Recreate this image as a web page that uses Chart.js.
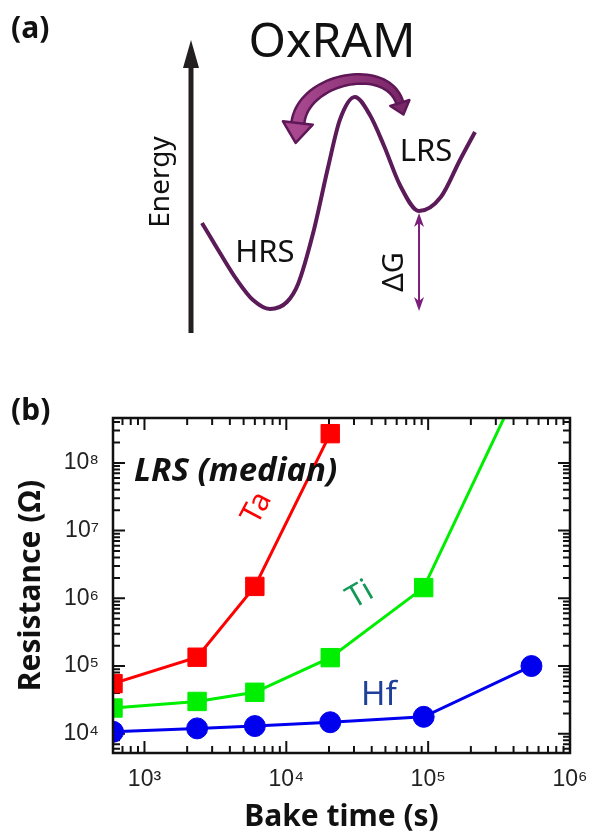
<!DOCTYPE html>
<html>
<head>
<meta charset="utf-8">
<script src="https://cdn.jsdelivr.net/npm/chart.js@4.4.1/dist/chart.umd.min.js"></script>
<style>
  html, body { margin: 0; padding: 0; background: #fff; }
  canvas { display: block; }
</style>
</head>
<body>
<canvas id="schemeChart" width="589" height="350"></canvas>
<canvas id="lrsChart" width="589" height="482"></canvas>
<script>
// (a) energy landscape, position vs energy (arbitrary units)
const wellPosition = [0, 6.6, 12.8, 18.7, 24.9, 31.1, 35.2, 40.7, 46.2, 50.5, 56.0, 61.5, 66.7, 72.5, 79.5, 87.5, 94.5, 100];
const wellEnergy = [40.6, 26.4, 13.7, 4.2, 0, 3.3, 11.8, 35.8, 67.0, 89.2, 100, 91.5, 76.9, 58.5, 46.2, 52.8, 70.3, 83.5];
const hrsIndex = 4, peakIndex = 10, lrsIndex = 14;

// (b) LRS median vs bake time
const bakeTimes = [600, 2350, 6000, 20400, 93000, 535000];
const taLRS = [5.5e4, 1.35e5, 1.5e6, 2.7e8];
const tiLRS = [2.4e4, 3.0e4, 4.1e4, 1.33e5, 1.44e6, 3.3e9];
const hfLRS = [1.07e4, 1.2e4, 1.3e4, 1.48e4, 1.78e4, 1.0e5];
const xRange = [600, 1e6];
const yRange = [5.2e3, 4.6e8];
const minorSteps = [2, 3, 4, 5, 6, 7, 8, 9];

const SANS = '"Noto Sans", "Open Sans", sans-serif';
const TICKFONT = '"Liberation Sans", Arial, sans-serif';
Chart.defaults.font.family = SANS;

// ========== (a) ==========
function drawSwapArrow(ctx, p0, c0, c1, p3) {
    const pt = (t) => {
        const u = 1 - t;
        return {
            x: u*u*u*p0.x + 3*u*u*t*c0.x + 3*u*t*t*c1.x + t*t*t*p3.x,
            y: u*u*u*p0.y + 3*u*u*t*c0.y + 3*u*t*t*c1.y + t*t*t*p3.y
        };
    };
    const left = [], right = [];
    const n = 40;
    for (let i = 0; i <= n; i++) {
        const t = i / n;
        const a = pt(Math.max(0, t - 0.01)), b = pt(Math.min(1, t + 0.01)), p = pt(t);
        let dx = b.x - a.x, dy = b.y - a.y;
        const len = Math.hypot(dx, dy);
        dx /= len; dy /= len;
        const w = 6.5 + (3.5 - 6.5) * t;
        left.push({ x: p.x - dy * w, y: p.y + dx * w });
        right.push({ x: p.x + dy * w, y: p.y - dx * w });
    }
    const head = (base, from, half, len) => {
        let dx = base.x - from.x, dy = base.y - from.y;
        const l = Math.hypot(dx, dy);
        dx /= l; dy /= l;
        return [
            { x: base.x - dy * half, y: base.y + dx * half },
            { x: base.x + dx * len, y: base.y + dy * len },
            { x: base.x + dy * half, y: base.y - dx * half }
        ];
    };
    const h0 = head(p0, c0, 15, 20);
    const h3 = head(p3, c1, 10, 12);

    const grad = ctx.createLinearGradient(p0.x, 0, p3.x, 0);
    grad.addColorStop(0, '#a8488f');
    grad.addColorStop(1, '#7a2768');
    ctx.save();
    ctx.beginPath();
    ctx.moveTo(right[0].x, right[0].y);
    for (let i = 1; i <= n; i++) ctx.lineTo(right[i].x, right[i].y);
    h3.forEach(p => ctx.lineTo(p.x, p.y));
    for (let i = n; i >= 0; i--) ctx.lineTo(left[i].x, left[i].y);
    h0.forEach(p => ctx.lineTo(p.x, p.y));
    ctx.closePath();
    ctx.fillStyle = grad;
    ctx.fill();
    ctx.lineJoin = 'round';
    ctx.lineWidth = 2.5;
    ctx.strokeStyle = '#5e1757';
    ctx.stroke();
    ctx.restore();
}

function drawThinArrowHead(ctx, x, y, dir) {
    ctx.beginPath();
    ctx.moveTo(x, y);
    ctx.lineTo(x - 5, y + dir * 14);
    ctx.lineTo(x, y + dir * 10);
    ctx.lineTo(x + 5, y + dir * 14);
    ctx.closePath();
    ctx.fill();
}

const schemeDecor = {
    id: 'schemeDecor',
    afterDatasetsDraw(chart) {
        const { ctx, chartArea: a, scales: { x, y } } = chart;
        ctx.save();

        // panel label and title
        ctx.fillStyle = '#111';
        ctx.textBaseline = 'middle';
        ctx.textAlign = 'left';
        ctx.font = 'bold 30px ' + SANS;
        ctx.fillText('(a)', 11, 29);
        ctx.textAlign = 'center';
        ctx.font = '48px ' + SANS;
        ctx.fillText('OxRAM', 332, 43);

        // energy axis
        const ax = a.left - 11;
        ctx.strokeStyle = '#231f20';
        ctx.fillStyle = '#231f20';
        ctx.lineWidth = 5;
        ctx.beginPath();
        ctx.moveTo(ax, a.bottom + 24);
        ctx.lineTo(ax, 62);
        ctx.stroke();
        ctx.beginPath();
        ctx.moveTo(ax, 40);
        ctx.lineTo(ax - 8, 68);
        ctx.lineTo(ax + 8, 68);
        ctx.closePath();
        ctx.fill();

        ctx.fillStyle = '#111';
        ctx.font = '28px ' + SANS;
        ctx.save();
        ctx.translate(161, 182);
        ctx.rotate(-Math.PI / 2);
        ctx.fillText('Energy', 0, 0);
        ctx.restore();

        // state labels
        ctx.font = '31px ' + SANS;
        ctx.fillText('HRS', 265, 253);
        ctx.fillText('LRS', 426, 152);

        // delta G arrow between the two minima
        const gx = x.getPixelForValue(wellPosition[lrsIndex]);
        const gTop = y.getPixelForValue(wellEnergy[lrsIndex]) + 2;
        const gBot = y.getPixelForValue(wellEnergy[hrsIndex]) + 2;
        ctx.strokeStyle = '#7a1f7a';
        ctx.fillStyle = '#7a1f7a';
        ctx.lineWidth = 2;
        ctx.beginPath();
        ctx.moveTo(gx, gTop + 6);
        ctx.lineTo(gx, gBot - 6);
        ctx.stroke();
        drawThinArrowHead(ctx, gx, gTop, 1);
        drawThinArrowHead(ctx, gx, gBot, -1);

        ctx.fillStyle = '#111';
        ctx.font = '29px ' + SANS;
        ctx.save();
        ctx.translate(gx - 24, 272);
        ctx.rotate(-Math.PI / 2);
        ctx.fillText('ΔG', 0, 0);
        ctx.restore();

        // switching arrow over the barrier
        const px = x.getPixelForValue(wellPosition[peakIndex]);
        const py = y.getPixelForValue(wellEnergy[peakIndex]);
        drawSwapArrow(ctx,
            { x: px - 57, y: py + 26 },
            { x: px - 52, y: py - 19 },
            { x: px + 32, y: py - 36 },
            { x: px + 45, y: py + 6 });

        ctx.restore();
    }
};

new Chart(document.getElementById('schemeChart'), {
    type: 'line',
    data: {
        datasets: [{
            data: wellPosition.map((p, i) => ({ x: p, y: wellEnergy[i] })),
            borderColor: '#5b1a58',
            borderWidth: 4,
            pointRadius: 0,
            cubicInterpolationMode: 'monotone',
            clip: false
        }]
    },
    options: {
        responsive: false,
        animation: false,
        events: [],
        layout: { padding: { left: 202, right: 114, top: 97, bottom: 41 } },
        scales: {
            x: { type: 'linear', display: false, min: 0, max: 100 },
            y: { type: 'linear', display: false, min: 0, max: 100 }
        },
        plugins: { legend: { display: false }, tooltip: { enabled: false } }
    },
    plugins: [schemeDecor]
});

// ========== (b) ==========
const supDigits = { '0': '⁰', '1': '¹', '2': '²', '3': '³', '4': '⁴', '5': '⁵', '6': '⁶', '7': '⁷', '8': '⁸', '9': '⁹' };

function isDecade(v) {
    const e = Math.log10(v);
    return Math.abs(e - Math.round(e)) < 1e-6;
}

function decadeLabel(v) {
    if (!isDecade(v)) return '';
    return '10' + String(Math.round(Math.log10(v))).split('').map(c => supDigits[c]).join('');
}

function logTicks(min, max) {
    const ticks = [];
    for (let e = Math.floor(Math.log10(min)); e <= Math.ceil(Math.log10(max)); e++) {
        [1].concat(minorSteps).forEach(m => {
            const v = m * Math.pow(10, e);
            if (v >= min * 0.999 && v <= max * 1.001) ticks.push({ value: v });
        });
    }
    return ticks;
}

function series(label, values, color, style, radius) {
    return {
        label: label,
        data: values.map((v, i) => ({ x: bakeTimes[i], y: v })),
        borderColor: color,
        backgroundColor: color,
        borderWidth: 3,
        pointStyle: style,
        pointRadius: radius,
        pointBorderWidth: 1,
        pointBackgroundColor: color,
        pointBorderColor: color,
        tension: 0,
        clip: 0
    };
}

// keep the plot box fixed: no extra room for overhanging tick labels
function noLabelPadding(s) {
    s.paddingLeft = 0;
    s.paddingRight = 0;
    s.paddingTop = 0;
    s.paddingBottom = 0;
}

const logFrame = {
    id: 'logFrame',
    beforeDatasetsDraw(chart) {
        const { ctx, chartArea: a, scales: { x, y } } = chart;
        ctx.save();
        ctx.strokeStyle = '#111';
        ctx.lineWidth = 2;
        ctx.beginPath();
        x.ticks.forEach(t => {
            const p = x.getPixelForValue(t.value);
            const len = isDecade(t.value) ? 12 : 7;
            ctx.moveTo(p, a.bottom); ctx.lineTo(p, a.bottom - len);
            ctx.moveTo(p, a.top); ctx.lineTo(p, a.top + len);
        });
        y.ticks.forEach(t => {
            const p = y.getPixelForValue(t.value);
            const len = isDecade(t.value) ? 12 : 7;
            ctx.moveTo(a.left, p); ctx.lineTo(a.left + len, p);
            ctx.moveTo(a.right, p); ctx.lineTo(a.right - len, p);
        });
        ctx.stroke();
        ctx.restore();
    },
    afterDatasetsDraw(chart) {
        const { ctx, chartArea: a } = chart;
        ctx.save();
        ctx.strokeStyle = '#111';
        ctx.lineWidth = 2.5;
        ctx.strokeRect(a.left, a.top, a.right - a.left, a.bottom - a.top);
        ctx.restore();
    }
};

const panelLabels = {
    id: 'panelLabels',
    afterDraw(chart) {
        const { ctx } = chart;
        ctx.save();
        ctx.textBaseline = 'middle';
        ctx.textAlign = 'left';
        ctx.fillStyle = '#111';
        ctx.font = 'bold 30px ' + SANS;
        ctx.fillText('(b)', 11, 61);

        ctx.textBaseline = 'alphabetic';
        ctx.font = 'italic bold 33px ' + SANS;
        ctx.fillText('LRS (median)', 134, 131);

        ctx.textBaseline = 'middle';
        ctx.textAlign = 'center';
        ctx.fillStyle = '#ff0000';
        ctx.font = '30px ' + SANS;
        ctx.save();
        ctx.translate(257, 158);
        ctx.rotate(-62 * Math.PI / 180);
        ctx.fillText('Ta', 0, 0);
        ctx.restore();

        ctx.fillStyle = '#119955';
        ctx.font = '31px ' + SANS;
        ctx.save();
        ctx.translate(360, 245);
        ctx.rotate(-30 * Math.PI / 180);
        ctx.fillText('Ti', 0, 0);
        ctx.restore();

        ctx.fillStyle = '#1f4099';
        ctx.font = '33px ' + SANS;
        ctx.fillText('Hf', 379, 346);
        ctx.restore();
    }
};

new Chart(document.getElementById('lrsChart'), {
    type: 'line',
    data: {
        datasets: [
            series('Ta', taLRS, '#ff0000', 'rect', 13),
            series('Ti', tiLRS, '#00ee00', 'rect', 13),
            series('Hf', hfLRS, '#0000ee', 'circle', 10.5)
        ]
    },
    options: {
        responsive: false,
        animation: false,
        events: [],
        layout: { padding: { left: 0, right: 19, top: 68, bottom: 0 } },
        scales: {
            x: {
                type: 'logarithmic',
                min: xRange[0],
                max: xRange[1],
                afterBuildTicks: s => { s.ticks = logTicks(xRange[0], xRange[1]); },
                afterFit: s => { s.height = 79; noLabelPadding(s); },
                grid: { display: false, drawTicks: false },
                border: { display: false },
                ticks: {
                    autoSkip: false, maxRotation: 0, padding: 13,
                    color: '#222', font: { family: TICKFONT, size: 23 },
                    callback: v => decadeLabel(v)
                },
                title: {
                    display: true, text: 'Bake time (s)', color: '#111', padding: 0,
                    font: { family: SANS, size: 30, weight: 'bold', lineHeight: 1 }
                }
            },
            y: {
                type: 'logarithmic',
                min: yRange[0],
                max: yRange[1],
                afterBuildTicks: s => { s.ticks = logTicks(yRange[0], yRange[1]); },
                afterFit: s => { s.width = 113; noLabelPadding(s); },
                grid: { display: false, drawTicks: false },
                border: { display: false },
                ticks: {
                    autoSkip: false, padding: 14,
                    color: '#222', font: { family: TICKFONT, size: 23 },
                    callback: v => decadeLabel(v)
                },
                title: {
                    display: true, text: 'Resistance (Ω)', color: '#111', padding: { top: 16, bottom: 0 },
                    font: { family: SANS, size: 30, weight: 'bold', lineHeight: 1 }
                }
            }
        },
        plugins: { legend: { display: false }, tooltip: { enabled: false } }
    },
    plugins: [logFrame, panelLabels]
});
</script>
</body>
</html>
